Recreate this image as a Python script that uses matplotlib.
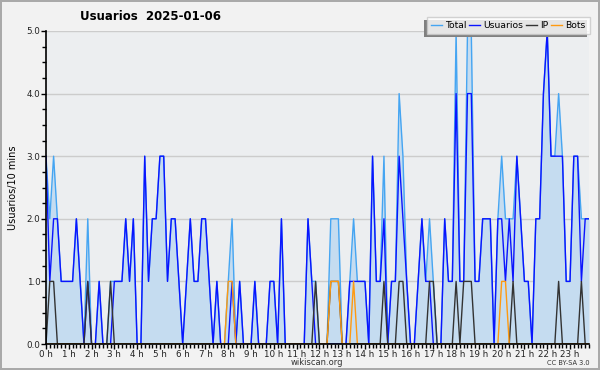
import matplotlib
matplotlib.use("Agg")
import matplotlib.pyplot as plt
from matplotlib.patches import Rectangle
from matplotlib.ticker import MultipleLocator, FixedLocator
import numpy as np

# --- datos: 144 intervalos de 10 minutos ---
total = [3, 2, 3, 2, 1, 1, 1, 1, 2, 1, 0, 2, 0, 0, 1, 0, 0, 1, 1, 1, 1, 2, 1, 2,
         0, 0, 3, 1, 2, 2, 3, 3, 1, 2, 2, 1, 0, 1, 2, 1, 1, 2, 2, 1, 0, 1, 0,
         0, 1, 2, 0, 1, 0, 0, 0, 1, 0, 0, 0, 1, 1, 0, 2, 0, 0, 0, 0, 0, 0, 2, 1,
         1, 0, 0, 0, 2, 2, 2, 0, 0, 1, 2, 1, 1, 1, 0, 3, 1, 1, 3, 0, 1, 1, 4, 3,
         1, 0, 0, 1, 2, 1, 2, 1, 0, 0, 2, 1, 1, 5, 1, 1, 5, 5, 1, 1, 2, 2, 2, 0,
         2, 3, 2, 2, 2, 3, 2, 1, 1, 0, 2, 2, 4, 5, 3, 3, 4, 3, 1, 1, 3, 3, 2, 2, 2]

usuarios = [3, 1, 2, 2, 1, 1, 1, 1, 2, 1, 0, 1, 0, 0, 1, 0, 0, 0, 1, 1, 1, 2, 1, 2,
            0, 0, 3, 1, 2, 2, 3, 3, 1, 2, 2, 1, 0, 1, 2, 1, 1, 2, 2, 1, 0, 1, 0,
            0, 0, 1, 0, 1, 0, 0, 0, 1, 0, 0, 0, 1, 1, 0, 2, 0, 0, 0, 0, 0, 0, 2, 1,
            0, 0, 0, 0, 0, 0, 0, 0, 0, 1, 1, 1, 1, 1, 0, 3, 1, 1, 2, 0, 1, 1, 3, 2,
            1, 0, 0, 1, 2, 1, 1, 0, 0, 0, 2, 1, 1, 4, 1, 1, 4, 4, 1, 1, 2, 2, 2, 0,
            2, 2, 1, 2, 1, 3, 2, 1, 1, 0, 2, 2, 4, 5, 3, 3, 3, 3, 1, 1, 3, 3, 1, 2, 2]

ip = [0, 1, 1, 0, 0, 0, 0, 0, 0, 0, 0, 1, 0, 0, 0, 0, 0, 1, 0, 0, 0, 0, 0, 0,
      0, 0, 0, 0, 0, 0, 0, 0, 0, 0, 0, 0, 0, 0, 0, 0, 0, 0, 0, 0, 0, 0, 0,
      0, 0, 0, 0, 0, 0, 0, 0, 0, 0, 0, 0, 0, 0, 0, 0, 0, 0, 0, 0, 0, 0, 0, 0,
      1, 0, 0, 0, 1, 1, 1, 0, 0, 0, 0, 0, 0, 0, 0, 0, 0, 0, 1, 0, 0, 0, 1, 1,
      0, 0, 0, 0, 0, 0, 1, 1, 0, 0, 0, 0, 0, 1, 0, 1, 1, 1, 0, 0, 0, 0, 0, 0,
      0, 0, 0, 0, 1, 0, 0, 0, 0, 0, 0, 0, 0, 0, 0, 0, 1, 0, 0, 0, 0, 0, 1, 0, 0]

bots = [0, 0, 0, 0, 0, 0, 0, 0, 0, 0, 0, 0, 0, 0, 0, 0, 0, 0, 0, 0, 0, 0, 0, 0,
        0, 0, 0, 0, 0, 0, 0, 0, 0, 0, 0, 0, 0, 0, 0, 0, 0, 0, 0, 0, 0, 0, 0,
        0, 1, 1, 0, 0, 0, 0, 0, 0, 0, 0, 0, 0, 0, 0, 0, 0, 0, 0, 0, 0, 0, 0, 0,
        0, 0, 0, 0, 1, 1, 1, 0, 0, 0, 1, 0, 0, 0, 0, 0, 0, 0, 0, 0, 0, 0, 0, 0,
        0, 0, 0, 0, 0, 0, 0, 0, 0, 0, 0, 0, 0, 0, 0, 0, 0, 0, 0, 0, 0, 0, 0, 0,
        0, 1, 1, 0, 0, 0, 0, 0, 0, 0, 0, 0, 0, 0, 0, 0, 0, 0, 0, 0, 0, 0, 0, 0, 0]

hour_labels = [f"{h} h" for h in range(24)]

# --- figura ---
x = np.arange(len(total)) / 6.0

fig = plt.figure(figsize=(6, 3.7), dpi=100, facecolor="#f2f2f2",
                 edgecolor="#aaaaaa", linewidth=1.5)
ax = fig.add_axes([46 / 600, 1 - 344 / 370, 543 / 600, 313 / 370])
ax.set_facecolor("#eceef0")

ax.fill_between(x, total, 0, color="#c5dcf0", lw=0, zorder=1)
ax.plot(x, total, color="#45a5f2", lw=1.0, label="Total", zorder=3)
ax.plot(x, usuarios, color="#0a14ff", lw=1.0, label="Usuarios", zorder=4)
ax.plot(x, ip, color="#333333", lw=1.0, label="IP", zorder=5)
ax.plot(x, bots, color="#ff9a10", lw=1.0, label="Bots", zorder=6)

ax.set_xlim(0, x[-1])
ax.set_ylim(0, 5)

ax.yaxis.set_major_locator(MultipleLocator(1))
ax.yaxis.set_minor_locator(MultipleLocator(0.25))
ax.set_yticklabels([f"{v:.1f}" for v in ax.get_yticks()])
ax.xaxis.set_major_locator(FixedLocator(range(24)))
ax.xaxis.set_minor_locator(MultipleLocator(1 / 6))
ax.set_xticklabels(hour_labels)

ax.tick_params(axis="both", which="both", direction="out", color="black",
               labelsize=6.3, labelcolor="#222222", pad=0.5)
ax.tick_params(axis="both", which="major", length=3.5, width=1)
ax.tick_params(axis="both", which="minor", length=3, width=1)

ax.grid(axis="y", which="major", color="#cccccc", lw=1, zorder=0)
ax.set_axisbelow(True)
for s in ["top", "right"]:
    ax.spines[s].set_visible(False)
for s in ["left", "bottom"]:
    ax.spines[s].set_linewidth(1.2)
    ax.spines[s].set_zorder(10)

ax.set_ylabel("Usuarios/10 mins", fontsize=7, labelpad=6)

fig.text(151 / 600, 1 - 16 / 370, "Usuarios  2025-01-06", ha="center",
         va="center", fontsize=8.5, fontweight="bold")
fig.text(317 / 600, 1 - 362.5 / 370, "wikiscan.org", ha="center", va="center",
         fontsize=6, color="#333333")
fig.text(590 / 600, 1 - 363 / 370, "CC BY-SA 3.0", ha="right", va="center",
         fontsize=4.8, color="#333333")

leg = fig.legend(loc="upper right", bbox_to_anchor=(590 / 600, 1 - 17 / 370),
                 ncol=4, fontsize=6.7, frameon=True, fancybox=False, shadow=False,
                 handlelength=1.2, handletextpad=0.35, columnspacing=0.25,
                 borderpad=0.45, borderaxespad=0)
leg.get_frame().set_edgecolor("#c8c8c8")
leg.get_frame().set_facecolor("white")
leg.get_frame().set_linewidth(1)
leg.set_zorder(20)

# sombra del recuadro de la leyenda (abajo a la izquierda)
fig.canvas.draw()
bb = leg.get_window_extent().transformed(fig.transFigure.inverted())
dx, dy = 3 / 600, 3 / 370
fig.patches.append(Rectangle((bb.x0 - dx, bb.y0 - dy), bb.width, bb.height,
                             transform=fig.transFigure, facecolor="#808080",
                             edgecolor="none", zorder=19))

fig.savefig("out.png", dpi=100, facecolor=fig.get_facecolor(),
            edgecolor=fig.get_edgecolor())
